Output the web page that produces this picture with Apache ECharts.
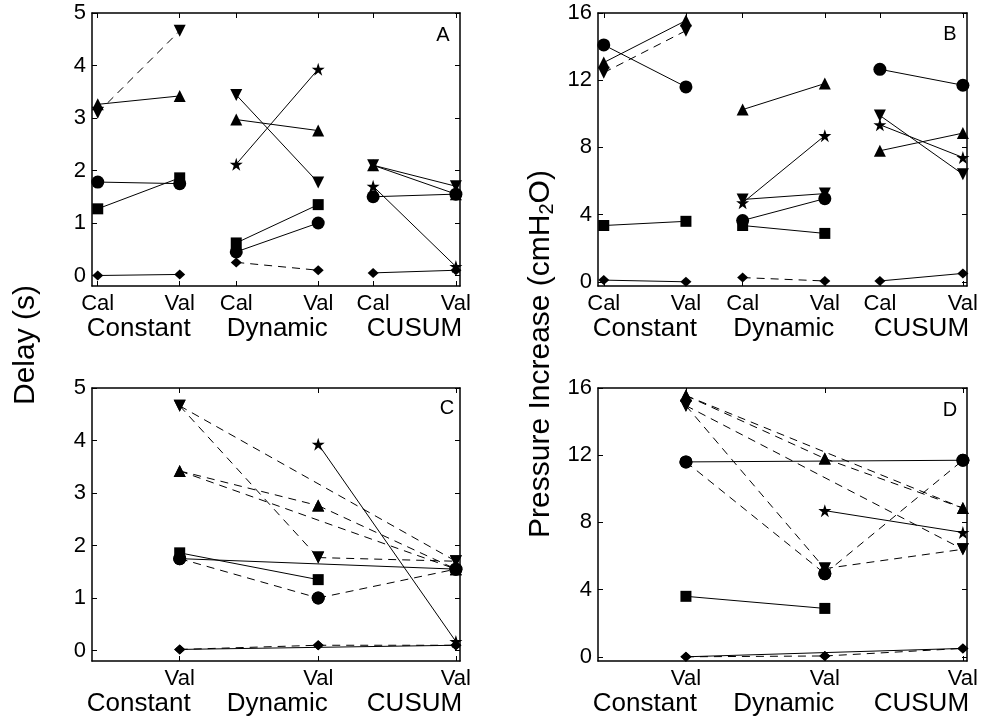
<!DOCTYPE html>
<html>
<head>
<meta charset="utf-8">
<script src="https://cdn.jsdelivr.net/npm/echarts@6/dist/echarts.min.js"></script>
<style>
  html, body { margin: 0; padding: 0; background: #fff; }
  #chart { width: 982px; height: 721px; }
</style>
</head>
<body>
<div id="chart"></div>
<script>
// Detection methods and the two phases of each
const methods = ['Constant', 'Dynamic', 'CUSUM'];
const phases = ['Cal', 'Val'];
// One marker per subject: circle, square, triangle, inverted triangle, star, diamond
const subjects = ['S1', 'S2', 'S3', 'S4', 'S5', 'S6'];

// Delay (s), calibration and validation, per method
const delayConstantCal = [1.78, 1.27, 3.26, 3.10, null, 0.00];
const delayConstantVal = [1.75, 1.86, 3.42, 4.66, null, 0.02];
const delayDynamicCal  = [0.45, 0.62, 2.97, 3.44, 2.12, 0.25];
const delayDynamicVal  = [1.00, 1.35, 2.76, 1.77, 3.93, 0.10];
const delayCusumCal    = [1.50, null, 2.10, 2.10, 1.70, 0.05];
const delayCusumVal    = [1.55, null, 1.55, 1.70, 0.17, 0.10];

// Pressure increase (cmH2O), calibration and validation, per method
const pressConstantCal = [14.10, 3.35, 13.05, 12.45, null, 0.10];
const pressConstantVal = [11.60, 3.60, 15.55, 14.95, null, 0.00];
const pressDynamicCal  = [3.65, 3.35, 10.25, 4.90, 4.70, 0.25];
const pressDynamicVal  = [4.95, 2.88, 11.80, 5.25, 8.70, 0.05];
const pressCusumCal    = [12.65, null, 7.80, 9.90, 9.35, 0.05];
const pressCusumVal    = [11.70, null, 8.85, 6.40, 7.40, 0.50];

// Link style per subject (1 = dashed, 0 = solid), Cal -> Val within a method
const calValDashedConstant = [0, 0, 0, 1, 0, 0];
const calValDashedDynamic  = [0, 0, 0, 0, 0, 1];
const calValDashedCusum    = [0, 0, 0, 0, 0, 0];
// Link style per subject between methods, validation values
const valDashedConstDyn   = [1, 0, 1, 1, 0, 1];
const valDashedDynCusum   = [1, 0, 1, 1, 0, 1];
const valDashedConstCusum = [0, 0, 1, 1, 0, 0];

// Tick values of the two y scales
const delayTicks = [0, 1, 2, 3, 4, 5];
const pressTicks = [0, 4, 8, 12, 16];

// ---- layout ----
const FONT = '"Liberation Sans", Arial, Helvetica, sans-serif';
const X_MIN = 0.93, X_MAX = 5.42;
const calPos = [1, 2.69, 4.36];
const valPos = [2, 3.69, 5.37];
const groupMid = [1.5, 3.19, 4.865];

const STAR = 'path://M100,0 L122.45,69.1 L195.1,69.1 L136.33,111.8 L158.8,180.9 L100,138.2 L41.2,180.9 L63.67,111.8 L4.9,69.1 L77.55,69.1 Z';
const markerSymbol = ['circle', 'rect', 'triangle', 'triangle', STAR, 'diamond'];
const markerSize = [13, 11, 12, 12, 13, [11, 10]];
const markerRotate = [0, 0, 0, 180, 0, 0];

const grids = [
  { left: 92,  top: 13,  width: 368, height: 273 },
  { left: 598, top: 13,  width: 369, height: 273 },
  { left: 92,  top: 388, width: 368, height: 273 },
  { left: 598, top: 388, width: 369, height: 273 }
];
const yRange = [[-0.2, 5], [-0.25, 16], [-0.2, 5], [-0.25, 16]];
const yTicks = [delayTicks, pressTicks, delayTicks, pressTicks];

const delayCal = [delayConstantCal, delayDynamicCal, delayCusumCal];
const delayVal = [delayConstantVal, delayDynamicVal, delayCusumVal];
const pressCal = [pressConstantCal, pressDynamicCal, pressCusumCal];
const pressVal = [pressConstantVal, pressDynamicVal, pressCusumVal];
const calValDashed = [calValDashedConstant, calValDashedDynamic, calValDashedCusum];
const methodPairs = [[0, 1, valDashedConstDyn], [1, 2, valDashedDynCusum], [0, 2, valDashedConstCusum]];

const axisLine = { show: true, onZero: false, lineStyle: { color: '#000', width: 1.5 } };
const tickStyle = { show: true, inside: true, length: 5, lineStyle: { color: '#000', width: 1 } };
const tickFont = { color: '#000', fontFamily: FONT, fontSize: 22 };

const xAxes = [];
const yAxes = [];
grids.forEach((g, gi) => {
  const valOnly = gi >= 2;
  const tickPos = valOnly ? valPos : [calPos[0], valPos[0], calPos[1], valPos[1], calPos[2], valPos[2]];
  const tickTxt = valOnly ? valPos.map(() => phases[1]) : tickPos.map((_, i) => phases[i % 2]);
  // phase tick labels
  xAxes.push({
    type: 'value', gridIndex: gi, position: 'bottom', min: X_MIN, max: X_MAX,
    axisLine: axisLine, splitLine: { show: false },
    axisTick: Object.assign({ customValues: tickPos }, tickStyle),
    axisLabel: Object.assign({
      customValues: tickPos, margin: 7,
      formatter: v => { const i = tickPos.findIndex(p => Math.abs(p - v) < 1e-6); return i < 0 ? '' : tickTxt[i]; }
    }, tickFont)
  });
  // method names under each group
  xAxes.push({
    type: 'value', gridIndex: gi, position: 'bottom', min: X_MIN, max: X_MAX,
    axisLine: { show: false, onZero: false }, axisTick: { show: false }, splitLine: { show: false },
    axisLabel: {
      customValues: groupMid, margin: 30, color: '#000', fontFamily: FONT, fontSize: 26,
      formatter: v => { const i = groupMid.findIndex(p => Math.abs(p - v) < 1e-6); return i < 0 ? '' : methods[i]; }
    }
  });
  // top frame
  xAxes.push({
    type: 'value', gridIndex: gi, position: 'top', min: X_MIN, max: X_MAX,
    axisLine: axisLine, splitLine: { show: false },
    axisTick: Object.assign({ customValues: tickPos }, tickStyle),
    axisLabel: { show: false }
  });
  yAxes.push({
    type: 'value', gridIndex: gi, position: 'left', min: yRange[gi][0], max: yRange[gi][1],
    axisLine: axisLine, splitLine: { show: false },
    axisTick: Object.assign({ customValues: yTicks[gi] }, tickStyle),
    axisLabel: Object.assign({ customValues: yTicks[gi], margin: 6 }, tickFont)
  });
  yAxes.push({
    type: 'value', gridIndex: gi, position: 'right', min: yRange[gi][0], max: yRange[gi][1],
    axisLine: axisLine, splitLine: { show: false },
    axisTick: Object.assign({ customValues: yTicks[gi] }, tickStyle),
    axisLabel: { show: false }
  });
});

const series = [];
function link(gi, p1, p2, s, dashed) {
  series.push({
    type: 'line', xAxisIndex: gi * 3, yAxisIndex: gi * 2,
    data: [p1, p2], clip: false,
    symbol: markerSymbol[s], symbolSize: markerSize[s], symbolRotate: markerRotate[s],
    showAllSymbol: true,
    itemStyle: { color: '#000', borderWidth: 0 },
    lineStyle: { color: '#000', width: 1, type: dashed ? [8, 6] : 'solid' },
    emphasis: { disabled: true }, silent: true, animation: false
  });
}
// panels A and B: calibration vs validation within each method
[[0, delayCal, delayVal], [1, pressCal, pressVal]].forEach(([gi, cal, val]) => {
  methods.forEach((_, m) => {
    subjects.forEach((_, s) => {
      if (cal[m][s] != null && val[m][s] != null) {
        link(gi, [calPos[m], cal[m][s]], [valPos[m], val[m][s]], s, calValDashed[m][s]);
      }
    });
  });
});
// panels C and D: validation values compared between methods
[[2, delayVal], [3, pressVal]].forEach(([gi, val]) => {
  methodPairs.forEach(([a, b, dashed]) => {
    subjects.forEach((_, s) => {
      if (val[a][s] != null && val[b][s] != null) {
        link(gi, [valPos[a], val[a][s]], [valPos[b], val[b][s]], s, dashed[s]);
      }
    });
  });
});

const textStyle = (t, size) => ({ text: t, fill: '#000', fontFamily: FONT, fontSize: size, align: 'center', verticalAlign: 'middle' });
const graphic = [
  { type: 'text', x: 443, y: 35, style: textStyle('A', 20), silent: true },
  { type: 'text', x: 950, y: 34, style: textStyle('B', 20), silent: true },
  { type: 'text', x: 447, y: 408, style: textStyle('C', 20), silent: true },
  { type: 'text', x: 950, y: 410, style: textStyle('D', 20), silent: true },
  { type: 'text', x: 26, y: 345, rotation: Math.PI / 2, style: textStyle('Delay (s)', 30), silent: true },
  {
    type: 'text', x: 541, y: 354, rotation: Math.PI / 2, silent: true,
    style: {
      text: '{n|Pressure Increase (cmH}{s|2}{n|O)}', fill: '#000', align: 'center', verticalAlign: 'middle',
      rich: {
        n: { fontFamily: FONT, fontSize: 30, lineHeight: 32, verticalAlign: 'middle' },
        s: { fontFamily: FONT, fontSize: 20, lineHeight: 14, verticalAlign: 'bottom' }
      }
    }
  }
];

const chart = echarts.init(document.getElementById('chart'));
chart.setOption({
  animation: false,
  backgroundColor: '#fff',
  grid: grids,
  xAxis: xAxes,
  yAxis: yAxes,
  series: series,
  graphic: graphic
});
</script>
</body>
</html>
